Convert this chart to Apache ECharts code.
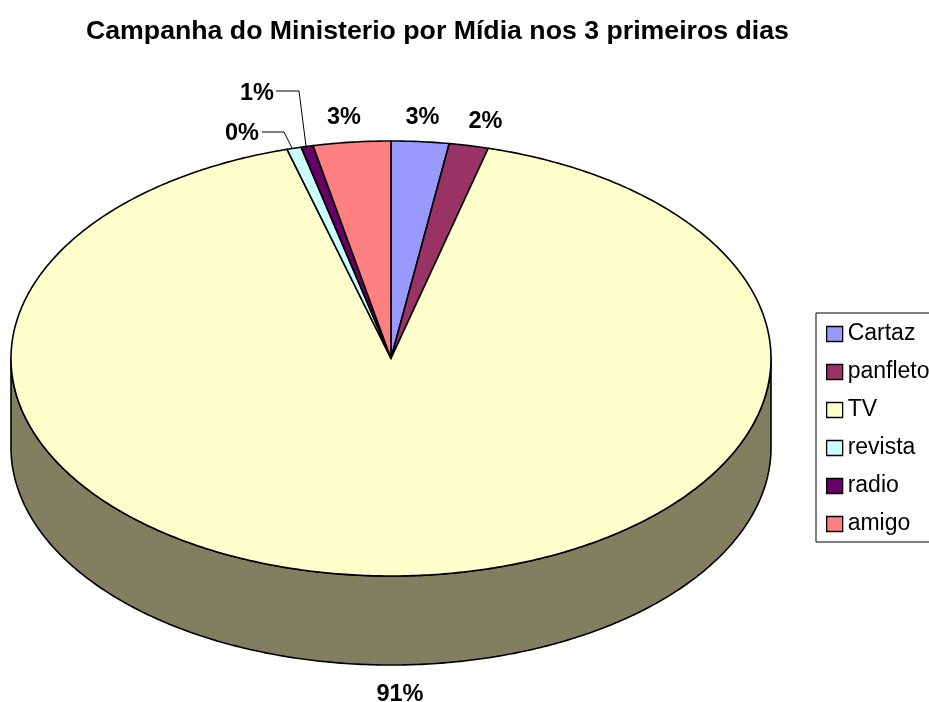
<!DOCTYPE html>
<html>
<head>
<meta charset="utf-8">
<style>html,body{margin:0;padding:0;background:#fff}#c{width:929px;height:702px}</style>
<script src="https://cdn.jsdelivr.net/npm/echarts@6/dist/echarts.min.js"></script>
</head>
<body>
<div id="c"></div>
<script>
const categories = ['Cartaz', 'panfleto', 'TV', 'revista', 'radio', 'amigo'];
const shares = [2.45, 1.67, 91.47, 0.61, 0.51, 3.29];
const shareLabels = ['3%', '2%', '91%', '0%', '1%', '3%'];
const colors = ['#9999FF', '#993366', '#FFFFCC', '#CCFFFF', '#660066', '#FF8080'];
const wallColor = '#808060';
const titleText = 'Campanha do Ministerio por Mídia nos 3 primeiros dias';

const FONT = '"Liberation Sans", Arial, sans-serif';
const geo = { cx: 391, cy: 358.5, rx: 380, ry: 217.5, depth: 89 };
const labelPos = [[422.5, 117.5], [485.5, 121.5], [400, 694.5], [242, 134], [257, 93.5], [344, 117.5]];
const leaders = { 3: [[262, 132], [284, 132], [292, 148]], 4: [[276, 91], [299, 91], [306, 146]] };

const total = shares.reduce((a, b) => a + b, 0);
function pt(share, dy) {
  const t = share / total * Math.PI * 2;
  return [geo.cx + geo.rx * Math.sin(t), geo.cy - geo.ry * Math.cos(t) + (dy || 0)];
}
function arc(from, to, dy) {
  const pts = [];
  const n = Math.max(2, Math.ceil((to - from) * 6));
  for (let i = 0; i <= n; i++) pts.push(pt(from + (to - from) * i / n, dy));
  return pts;
}
const lineStyle = { stroke: '#000', lineWidth: 1.6, lineJoin: 'round' };

function makeRender(idx) {
  return function (params, api) {
    const start = shares.slice(0, idx).reduce((a, b) => a + b, 0);
    const end = start + api.value(0);
    const children = [];
    // the visible side wall: front half of the rim, which belongs to the slice covering it
    const from = Math.max(start, total / 4), to = Math.min(end, total * 3 / 4);
    if (to > from) {
      const top = arc(from, to, 0), bottom = arc(from, to, geo.depth).reverse();
      children.push({
        type: 'polygon',
        shape: { points: top.concat(bottom) },
        style: Object.assign({ fill: wallColor }, lineStyle)
      });
    }
    children.push({
      type: 'polygon',
      shape: { points: [[geo.cx, geo.cy]].concat(arc(start, end, 0)) },
      style: Object.assign({ fill: colors[idx] }, lineStyle)
    });
    if (leaders[idx]) {
      children.push({
        type: 'polyline',
        shape: { points: leaders[idx] },
        style: { stroke: '#000', lineWidth: 1, fill: null }
      });
    }
    children.push({
      type: 'text',
      x: labelPos[idx][0], y: labelPos[idx][1],
      style: {
        text: shareLabels[idx], fill: '#000', align: 'center', verticalAlign: 'middle',
        font: 'bold 23.5px ' + FONT
      }
    });
    return { type: 'group', children };
  };
}

const chart = echarts.init(document.getElementById('c'), null, { renderer: 'canvas' });
chart.setOption({
  animation: false,
  backgroundColor: '#fff',
  title: {
    text: titleText, left: 86, top: 18, padding: 0,
    textStyle: { fontFamily: FONT, fontWeight: 'bold', fontSize: 26.7, color: '#000' }
  },
  legend: {
    orient: 'vertical', left: 816, top: 313,
    data: categories, icon: 'rect', itemWidth: 16, itemHeight: 15, itemGap: 12,
    padding: [8, 12, 5, 10],
    backgroundColor: '#fff', borderColor: '#000', borderWidth: 1,
    selectedMode: false, inactiveColor: '#000',
    itemStyle: { borderColor: '#000', borderWidth: 1.3 },
    textStyle: { fontFamily: FONT, fontSize: 23, color: '#000', lineHeight: 24, padding: [2, 0, 0, 0] }
  },
  series: categories.map((name, i) => ({
    type: 'custom', name, coordinateSystem: 'none', silent: true,
    itemStyle: { color: colors[i] },
    data: [[shares[i]]],
    renderItem: makeRender(i)
  }))
});
</script>
</body>
</html>
